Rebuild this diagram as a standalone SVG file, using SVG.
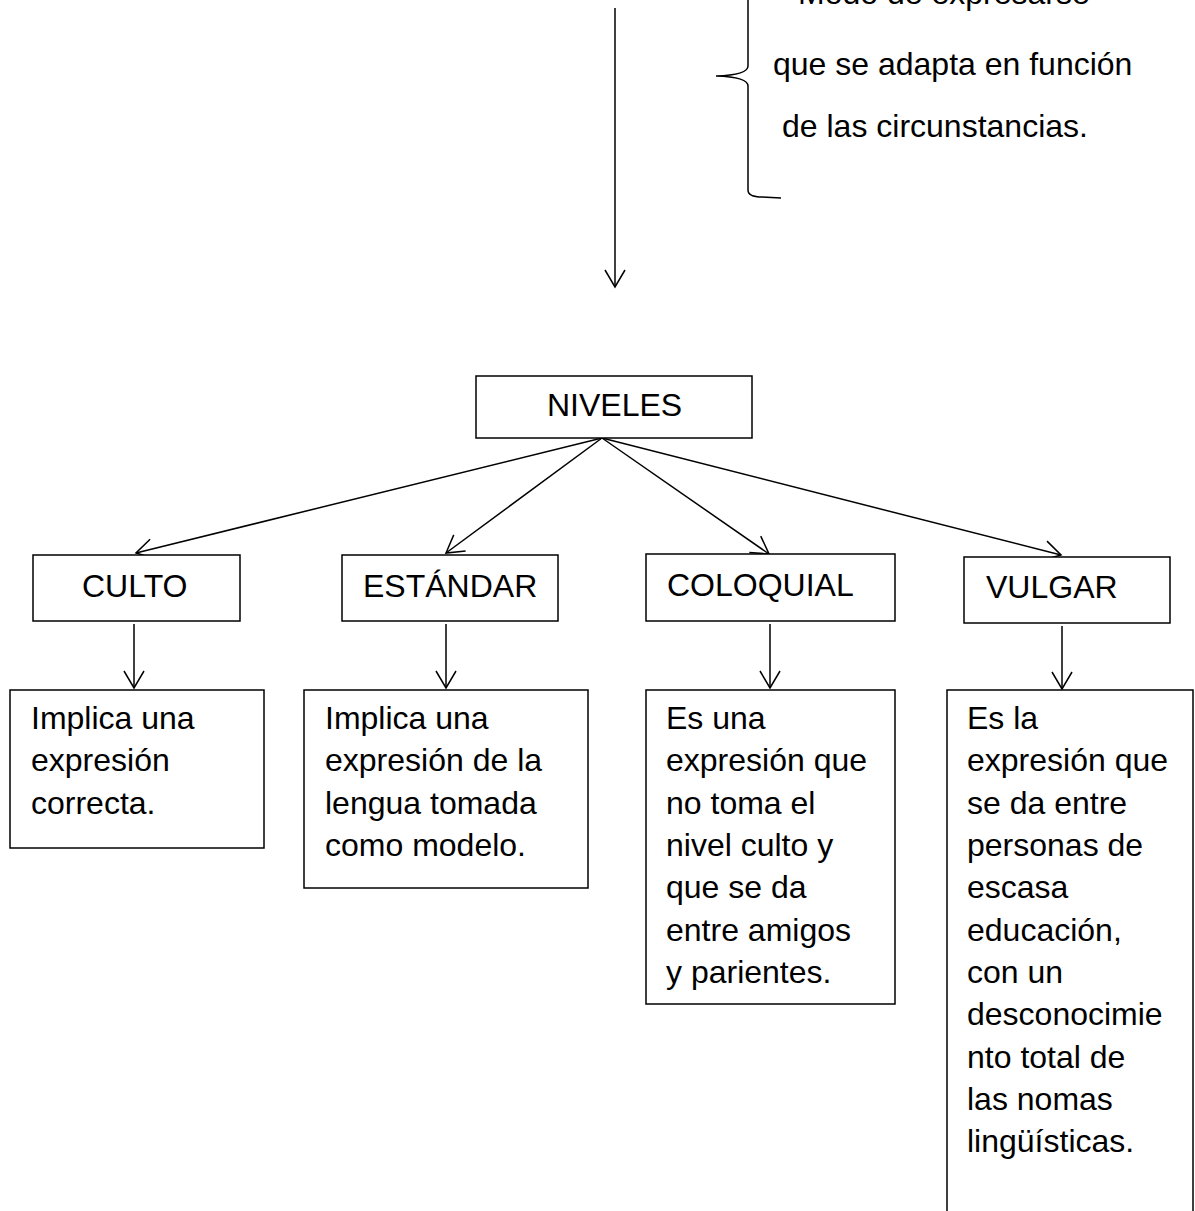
<svg xmlns="http://www.w3.org/2000/svg" width="1195" height="1211" viewBox="0 0 1195 1211">
<style>
  .box { fill: #ffffff; stroke: #000000; stroke-width: 1.5; }
  .t { font-family: "Liberation Sans", Arial, sans-serif; font-size: 32px; fill: #000000; }
  .c { fill: none; stroke: #000000; stroke-width: 1.5; }
</style>
<defs>
  <marker id="ah" markerUnits="userSpaceOnUse" markerWidth="40" markerHeight="40" refX="0" refY="0" orient="auto" overflow="visible">
    <path d="M-17,-10 L0,0 L-17,10" fill="none" stroke="#000000" stroke-width="1.5"/>
  </marker>
</defs>
<rect width="1195" height="1211" fill="#ffffff"/>

<g id="connectors">
  <line class="c" x1="615" y1="8" x2="615" y2="287" marker-end="url(#ah)"/>
  <path class="c" d="M748,-5 L748,66 Q748,75 716,76 Q748,77 748,86 L748,190 Q748,197 762,197 L781,198"/>
  <line class="c" x1="602" y1="438" x2="136" y2="553" marker-end="url(#ah)"/>
  <line class="c" x1="602" y1="438" x2="446" y2="553" marker-end="url(#ah)"/>
  <line class="c" x1="602" y1="438" x2="769" y2="554" marker-end="url(#ah)"/>
  <line class="c" x1="602" y1="438" x2="1061" y2="555" marker-end="url(#ah)"/>
  <line class="c" x1="134" y1="624" x2="134" y2="688" marker-end="url(#ah)"/>
  <line class="c" x1="446" y1="624" x2="446" y2="688" marker-end="url(#ah)"/>
  <line class="c" x1="770" y1="624" x2="770" y2="688" marker-end="url(#ah)"/>
  <line class="c" x1="1062" y1="626" x2="1062" y2="689" marker-end="url(#ah)"/>
</g>

<g id="definicion">
  <text class="t" x="798" y="4">Modo de expresarse</text>
  <text class="t" x="773" y="75">que se adapta en función</text>
  <text class="t" x="782" y="137">de las circunstancias.</text>
</g>

<g id="niveles">
  <rect class="box" x="476" y="376" width="276" height="62"/>
  <text class="t" x="547" y="416">NIVELES</text>
</g>

<g id="culto">
  <rect class="box" x="33" y="555" width="207" height="66"/>
  <text class="t" x="82" y="597">CULTO</text>
</g>

<g id="estandar">
  <rect class="box" x="342" y="555" width="216" height="66"/>
  <text class="t" x="363" y="597">ESTÁNDAR</text>
</g>

<g id="coloquial">
  <rect class="box" x="646" y="554" width="249" height="67"/>
  <text class="t" x="667" y="596">COLOQUIAL</text>
</g>

<g id="vulgar">
  <rect class="box" x="964" y="557" width="206" height="66"/>
  <text class="t" x="986" y="598">VULGAR</text>
</g>

<g id="culto-desc">
  <rect class="box" x="10" y="690" width="254" height="158"/>
  <text class="t" x="31" y="729">Implica una</text>
  <text class="t" x="31" y="771">expresión</text>
  <text class="t" x="31" y="814">correcta.</text>
</g>

<g id="estandar-desc">
  <rect class="box" x="304" y="690" width="284" height="198"/>
  <text class="t" x="325" y="729">Implica una</text>
  <text class="t" x="325" y="771">expresión de la</text>
  <text class="t" x="325" y="814">lengua tomada</text>
  <text class="t" x="325" y="856">como modelo.</text>
</g>

<g id="coloquial-desc">
  <rect class="box" x="646" y="690" width="249" height="314"/>
  <text class="t" x="666" y="729">Es una</text>
  <text class="t" x="666" y="771">expresión que</text>
  <text class="t" x="666" y="814">no toma el</text>
  <text class="t" x="666" y="856">nivel culto y</text>
  <text class="t" x="666" y="898">que se da</text>
  <text class="t" x="666" y="941">entre amigos</text>
  <text class="t" x="666" y="983">y parientes.</text>
</g>

<g id="vulgar-desc">
  <rect class="box" x="947" y="690" width="246" height="540"/>
  <text class="t" x="967" y="729">Es la</text>
  <text class="t" x="967" y="771">expresión que</text>
  <text class="t" x="967" y="814">se da entre</text>
  <text class="t" x="967" y="856">personas de</text>
  <text class="t" x="967" y="898">escasa</text>
  <text class="t" x="967" y="941">educación,</text>
  <text class="t" x="967" y="983">con un</text>
  <text class="t" x="967" y="1025">desconocimie</text>
  <text class="t" x="967" y="1068">nto total de</text>
  <text class="t" x="967" y="1110">las nomas</text>
  <text class="t" x="967" y="1152">lingüísticas.</text>
</g>
</svg>
